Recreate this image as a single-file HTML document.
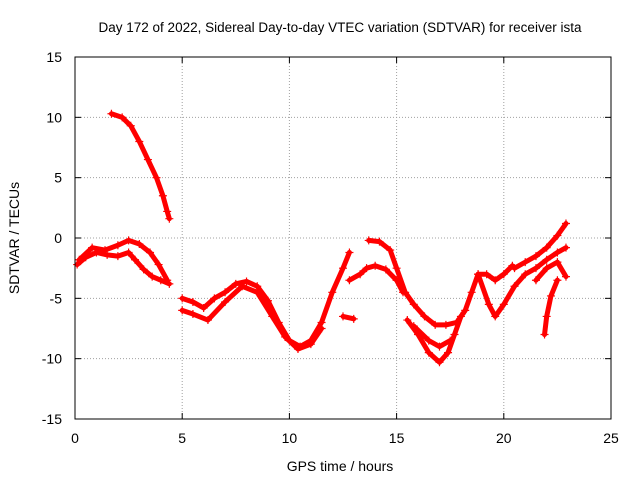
<!DOCTYPE html>
<html><head><meta charset="utf-8"><style>
body{margin:0;background:#fff}
svg{display:block;font-family:"Liberation Sans",sans-serif}
</style></head><body>
<svg id="chart" width="640" height="480">
<text x="340" y="32" text-anchor="middle" font-size="13.5">Day 172 of 2022, Sidereal Day-to-day VTEC variation (SDTVAR) for receiver ista</text>
<text x="340" y="471" text-anchor="middle" font-size="14">GPS time / hours</text>
<text transform="translate(19,238) rotate(-90)" text-anchor="middle" font-size="14">SDTVAR / TECUs</text>
<g id="grid"></g>
<g id="ticks"></g>
<g id="series"></g>
<rect x="75" y="57" width="536" height="362" fill="none" stroke="#000" stroke-width="1"/>
</svg>
<script>
const xTicks=[0,5,10,15,20,25];
const yTicks=[-15,-10,-5,0,5,10,15];
const seg1=[[1.7,10.3],[2.2,10.0],[2.6,9.3],[3.0,8.0],[3.4,6.5],[3.8,5.0],[4.1,3.5],[4.3,2.2],[4.4,1.6]];
const seg2=[[0.1,-2.2],[0.5,-1.6],[1.0,-1.2],[1.5,-1.4],[2.0,-1.5],[2.5,-1.2],[2.8,-1.8],[3.2,-2.6],[3.6,-3.2],[4.0,-3.5],[4.4,-3.8]];
const seg3=[[0.2,-1.8],[0.8,-0.8],[1.4,-1.0],[2.0,-0.6],[2.5,-0.2],[3.0,-0.5],[3.5,-1.2],[3.9,-2.2],[4.3,-3.5]];
const seg4=[[5.0,-5.0],[5.5,-5.3],[6.0,-5.8],[6.5,-5.0],[7.0,-4.5],[7.5,-3.8],[8.0,-3.6],[8.5,-4.0],[9.0,-5.2],[9.5,-7.0],[10.0,-8.5],[10.5,-9.0],[11.0,-8.5],[11.5,-7.0],[12.0,-4.5],[12.5,-2.5],[12.8,-1.2]];
const seg5=[[5.0,-6.0],[5.5,-6.3],[6.2,-6.8],[7.0,-5.3],[7.8,-4.0],[8.5,-4.5],[9.2,-6.5],[9.8,-8.2],[10.4,-9.2],[11.0,-8.8],[11.5,-7.5]];
const seg6=[[12.5,-6.5],[13.0,-6.7]];
const seg7=[[12.8,-3.5],[13.3,-3.0],[13.6,-2.5],[14.0,-2.3],[14.5,-2.6],[15.0,-3.5],[15.3,-4.5]];
const seg8=[[13.7,-0.2],[14.2,-0.3],[14.7,-1.0],[15.0,-2.5],[15.4,-4.5],[15.8,-5.5],[16.3,-6.5],[16.8,-7.2],[17.3,-7.2],[17.8,-7.0],[18.2,-6.0],[18.5,-4.5],[18.8,-3.0],[19.2,-3.0],[19.6,-3.5],[20.0,-3.0],[20.4,-2.3]];
const seg9=[[15.5,-6.8],[16.0,-8.0],[16.5,-9.5],[17.0,-10.3],[17.4,-9.5],[17.7,-8.0],[18.0,-6.5]];
const seg10=[[15.8,-7.3],[16.5,-8.5],[17.0,-9.0],[17.5,-8.5]];
const seg11=[[18.8,-3.0],[19.3,-5.5],[19.6,-6.5],[20.0,-5.5],[20.5,-4.0],[21.0,-3.0],[21.5,-2.5],[22.0,-1.8],[22.5,-1.2],[22.9,-0.8]];
const seg12=[[20.5,-2.5],[21.0,-2.0],[21.5,-1.5],[22.0,-0.8],[22.5,0.2],[22.9,1.2]];
const seg13=[[21.5,-3.5],[22.0,-2.5],[22.5,-2.0],[22.9,-3.2]];
const seg14=[[21.9,-8.0],[22.0,-6.5],[22.2,-4.8],[22.5,-3.5]];
const segments=[seg1,seg2,seg3,seg4,seg5,seg6,seg7,seg8,seg9,seg10,seg11,seg12,seg13,seg14];
const NS="http://www.w3.org/2000/svg";
const X0=75,X1=611,Y0=419,Y1=57;
const sx=v=>X0+(v-0)/(25-0)*(X1-X0);
const sy=v=>Y0-(v+15)/30*(Y0-Y1);
const grid=document.getElementById('grid'),ticks=document.getElementById('ticks'),ser=document.getElementById('series');
function mk(t,a,p){const e=document.createElementNS(NS,t);for(const k in a)e.setAttribute(k,a[k]);p.appendChild(e);return e;}
xTicks.forEach(v=>{
 const x=sx(v);
 if(v>0&&v<25){const g=mk('line',{x1:x,x2:x,y1:Y1,y2:Y0,stroke:'#a0a0a0','stroke-dasharray':'1,2'},grid);
 
 }
 mk('line',{x1:x,x2:x,y1:Y0,y2:Y0-6,stroke:'#000'},ticks);
 mk('line',{x1:x,x2:x,y1:Y1,y2:Y1+6,stroke:'#000'},ticks);
 const t=mk('text',{x:x,y:443,'text-anchor':'middle','font-size':14},ticks);t.textContent=v;
 
 
});
yTicks.forEach(v=>{
 const y=sy(v);
 if(v>-15&&v<15){const g=mk('line',{x1:X0,x2:X1,y1:y,y2:y,stroke:'#a0a0a0','stroke-dasharray':'1,2'},grid);
 
 }
 mk('line',{x1:X0,x2:X0+6,y1:y,y2:y,stroke:'#000'},ticks);
 mk('line',{x1:X1,x2:X1-6,y1:y,y2:y,stroke:'#000'},ticks);
 const t=mk('text',{x:62,y:y+5,'text-anchor':'end','font-size':14},ticks);t.textContent=v;
 
 
});
segments.forEach((s,i)=>{
 const pl=mk('polyline',{points:s.map(p=>sx(p[0])+','+sy(p[1])).join(' '),fill:'none',stroke:'#f00','stroke-width':5,'stroke-linejoin':'round','stroke-linecap':'round'},ser);
 
 
 s.forEach(p=>{
  const x=sx(p[0]),y=sy(p[1]);
  const m=mk('path',{d:`M${x-4},${y}H${x+4}M${x},${y-4}V${y+4}`,stroke:'#f00','stroke-width':1.2},ser);
  
  
 });
});
</script>
</body></html>
